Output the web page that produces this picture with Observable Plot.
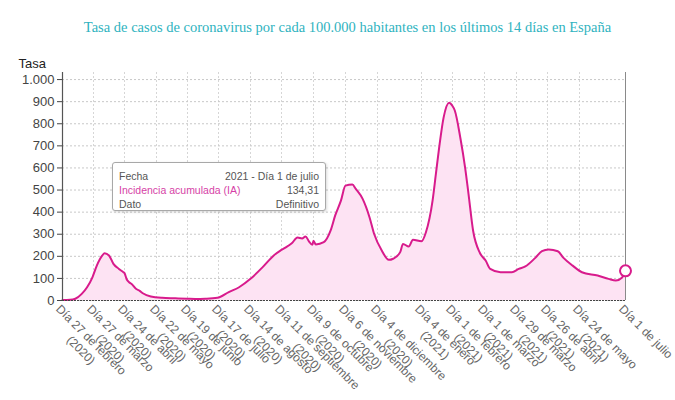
<!DOCTYPE html>
<html><head><meta charset="utf-8">
<script src="https://cdn.jsdelivr.net/npm/d3@7"></script>
<script src="https://cdn.jsdelivr.net/npm/@observablehq/plot@0.6"></script>
<style>
body{margin:0;background:#fff;font-family:"Liberation Sans",Arial,sans-serif;}
#wrap{position:relative;width:675px;height:400px;overflow:hidden;}
#title{position:absolute;left:10px;top:19px;width:675px;text-align:center;font-family:"Liberation Serif","Times New Roman",serif;font-size:14.5px;color:#2fb3c0;white-space:nowrap;}
#chart{position:absolute;left:0;top:45px;}
#tip{position:absolute;left:112px;top:162px;width:214px;height:49px;background:#fff;border:1px solid #a8a8a8;border-radius:3px;box-shadow:1px 1px 3px rgba(0,0,0,0.15);font-size:10.5px;color:#555;box-sizing:border-box;padding:6px 6px 0 6px;line-height:14px;}
#tip .row{display:flex;justify-content:space-between;}
#tip .ia{color:#d63fa6;}
</style></head><body>
<div id="wrap">
<div id="title"></div>
<div id="chart"></div>
<div id="tip"></div>
</div>
<script>
const titulo = "Tasa de casos de coronavirus por cada 100.000 habitantes en los últimos 14 días en España";
const ejeY = "Tasa";

const fechas = ["2020-02-27","2020-03-05","2020-03-10","2020-03-16","2020-03-21","2020-03-26","2020-03-30","2020-04-04","2020-04-06","2020-04-10","2020-04-14","2020-04-19","2020-04-23","2020-04-24","2020-04-26","2020-04-28","2020-04-30","2020-05-04","2020-05-07","2020-05-10","2020-05-17","2020-05-27","2020-06-08","2020-06-19","2020-06-26","2020-07-05","2020-07-16","2020-07-26","2020-08-04","2020-08-14","2020-08-25","2020-09-04","2020-09-10","2020-09-14","2020-09-20","2020-09-25","2020-09-29","2020-10-02","2020-10-05","2020-10-08","2020-10-09","2020-10-11","2020-10-18","2020-10-24","2020-10-28","2020-11-02","2020-11-06","2020-11-12","2020-11-15","2020-11-21","2020-11-27","2020-12-01","2020-12-07","2020-12-12","2020-12-15","2020-12-20","2020-12-22","2020-12-26","2020-12-29","2021-01-04","2021-01-08","2021-01-14","2021-01-17","2021-01-20","2021-01-24","2021-01-29","2021-02-01","2021-02-03","2021-02-08","2021-02-12","2021-02-15","2021-02-19","2021-02-25","2021-03-02","2021-03-06","2021-03-15","2021-03-25","2021-03-31","2021-04-06","2021-04-15","2021-04-21","2021-04-27","2021-05-05","2021-05-10","2021-05-18","2021-05-26","2021-06-08","2021-06-17","2021-06-23","2021-06-28","2021-07-01"];
const tasa = [2,3,8,30,60,105,158,204,214,204,166,143,128,124,95,83,76,53,45,33,18,12,10,8,7,8,12,38,60,98,151,204,226,238,259,285,281,290,268,252,271,254,264,317,385,452,520,525,505,460,377,302,226,184,189,219,256,244,275,268,309,452,573,694,829,895,880,860,732,603,483,317,215,181,143,128,128,143,154,193,223,231,223,193,158,128,113,98,90,103,134.31];

const xTickFechas = ["2020-02-27","2020-03-27","2020-04-24","2020-05-22","2020-06-19","2020-07-17","2020-08-14","2020-09-11","2020-10-09","2020-11-06","2020-12-04","2021-01-04","2021-02-01","2021-03-01","2021-03-29","2021-04-26","2021-05-24","2021-07-01"];
const xTickTextos = ["Día 27 de febrero\n(2020)","Día 27 de marzo\n(2020)","Día 24 de abril\n(2020)","Día 22 de mayo\n(2020)","Día 19 de junio\n(2020)","Día 17 de julio\n(2020)","Día 14 de agosto\n(2020)","Día 11 de septiembre\n(2020)","Día 9 de octubre\n(2020)","Día 6 de noviembre\n(2020)","Día 4 de diciembre\n(2020)","Día 4 de enero\n(2021)","Día 1 de febrero\n(2021)","Día 1 de marzo\n(2021)","Día 29 de marzo\n(2021)","Día 26 de abril\n(2021)","Día 24 de mayo\n(2021)","Día 1 de julio"];
const yTicks = [0,100,200,300,400,500,600,700,800,900,1000];

const tooltipEtiquetas = ["Fecha","Incidencia acumulada (IA)","Dato"];
const tooltipValores = ["2021 - Día 1 de julio", null, "Definitivo"];

const parse = d3.utcParse("%Y-%m-%d");
const data = fechas.map((f, i) => ({date: parse(f), v: tasa[i]}));
const xTicks = xTickFechas.map((f, i) => ({date: parse(f), label: xTickTextos[i]}));
const tickDates = xTicks.map(d => d.date);
const last = data[data.length - 1];

const esLocale = d3.formatLocale({decimal: ",", thousands: ".", grouping: [3], currency: ["", " €"]});
const fmtInt = esLocale.format(",");
const fmtDec = esLocale.format(",.2f");

document.getElementById("title").textContent = titulo;

const lineColor = "#d81b8c";

const chart = Plot.plot({
  width: 675,
  height: 355,
  marginLeft: 62,
  marginRight: 50,
  marginTop: 27,
  marginBottom: 100,
  style: {fontFamily: "'Liberation Sans', Arial, sans-serif", background: "transparent"},
  x: {type: "utc", domain: tickDates, range: [62, 93, 124, 156, 187, 218, 250, 281, 313, 345, 377, 421, 452, 484, 516, 547, 579, 625], axis: null},
  y: {domain: [0, 1032]},
  marks: [
    Plot.gridX({ticks: tickDates, stroke: "#d6d6d6", strokeOpacity: 1, strokeDasharray: "2,2"}),
    Plot.gridY({ticks: yTicks, stroke: "#c8c8c8", strokeOpacity: 1, strokeDasharray: "2,2"}),
    Plot.areaY(data, {x: "date", y: "v", fill: "#fde3f3", fillOpacity: 1, curve: "monotone-x"}),
    Plot.lineY(data, {x: "date", y: "v", stroke: lineColor, strokeWidth: 2, curve: "monotone-x"}),
    Plot.ruleX([tickDates[0]], {stroke: "#555", strokeWidth: 1.2}),
    Plot.ruleX([tickDates[tickDates.length - 1]], {stroke: "#8a8a8a", strokeWidth: 1}),
    Plot.ruleY([0], {stroke: "#444", strokeWidth: 1.2, strokeDasharray: "2,1"}),
    Plot.axisY({ticks: yTicks, tickFormat: fmtInt, tickSize: 5, tickPadding: 3, fontSize: 13, color: "#444", label: null}),
    Plot.text(xTicks, {x: "date", text: "label", frameAnchor: "bottom", textAnchor: "start", lineAnchor: "top", rotate: 45, dy: 2, fontSize: 12, fill: "#666", lineHeight: 1.2}),
    Plot.dot([last], {x: "date", y: "v", r: 5.5, stroke: lineColor, strokeWidth: 2, fill: "white"}),
    Plot.text([ejeY], {frameAnchor: "top-left", dx: -44, dy: -14, textAnchor: "start", fontSize: 13, fill: "#222"})
  ]
});
document.getElementById("chart").appendChild(chart);

// center the second line of each two-line x tick label under the first
chart.querySelectorAll("text").forEach(t => {
  const sp = t.querySelectorAll("tspan");
  if (sp.length === 2) {
    const w1 = sp[0].getComputedTextLength();
    const w2 = sp[1].getComputedTextLength();
    sp[1].setAttribute("x", ((w1 - w2) / 2).toFixed(1));
  }
});

// tooltip
const tip = document.getElementById("tip");
tooltipEtiquetas.forEach((lab, i) => {
  const row = document.createElement("div");
  row.className = "row";
  const a = document.createElement("span");
  a.textContent = lab;
  if (i === 1) a.className = "ia";
  const b = document.createElement("span");
  b.textContent = i === 1 ? fmtDec(last.v) : tooltipValores[i];
  row.appendChild(a); row.appendChild(b);
  tip.appendChild(row);
});
</script>
</body></html>
